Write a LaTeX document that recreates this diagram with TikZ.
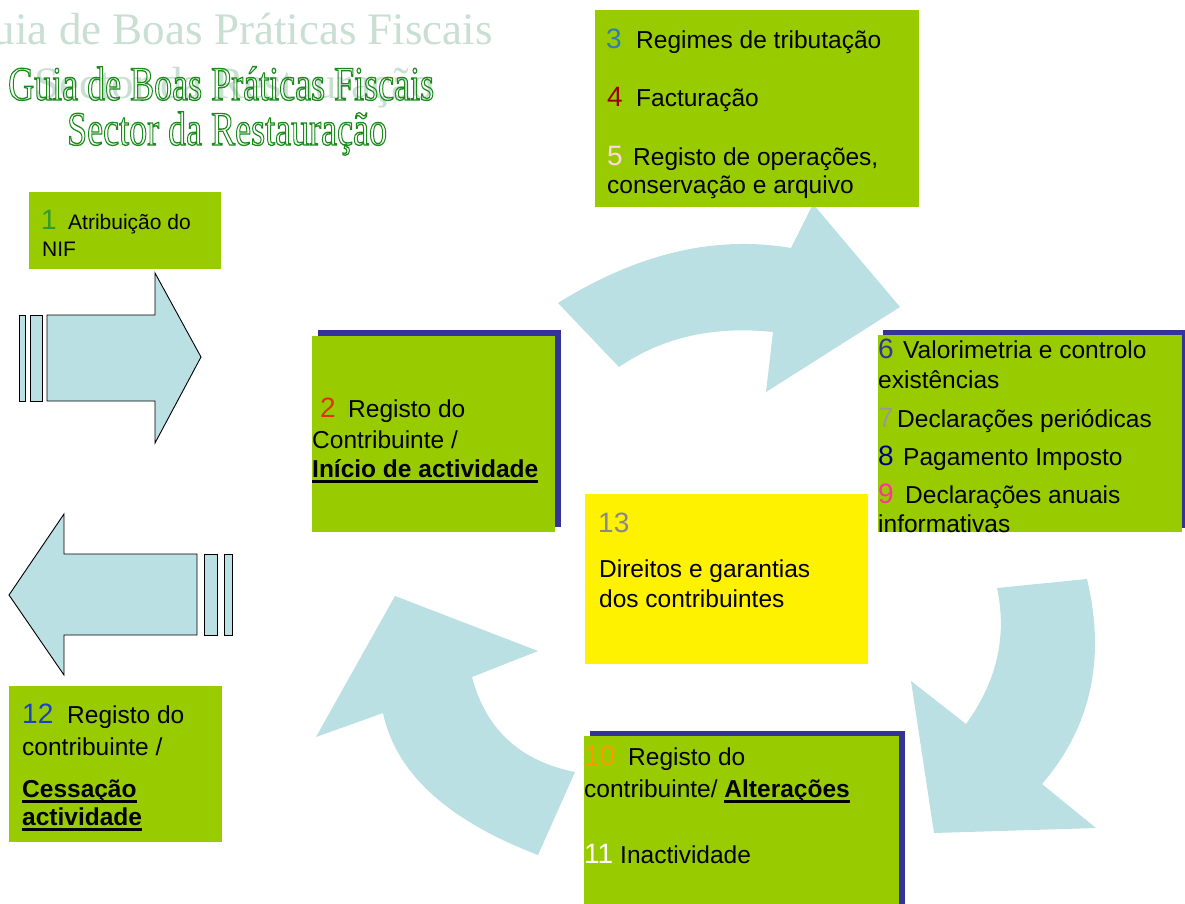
\documentclass[tikz,border=0pt]{standalone}
\usepackage{fontspec}
\setmainfont{Liberation Sans}
\newfontfamily\titlefont{Liberation Serif}
\definecolor{lime}{HTML}{99CC00}
\definecolor{navyshadow}{HTML}{333399}
\definecolor{arrowfill}{HTML}{BBE0E3}
\definecolor{faded}{HTML}{C8DFD2}
\definecolor{outgreen}{HTML}{1A8A1A}
\definecolor{cone}{HTML}{339933}
\definecolor{ctwo}{HTML}{DD3311}
\definecolor{cthree}{HTML}{2E7DB5}
\definecolor{cfour}{HTML}{990000}
\definecolor{cfive}{HTML}{FFD5EA}
\definecolor{csix}{HTML}{333399}
\definecolor{cseven}{HTML}{999999}
\definecolor{ceight}{HTML}{000080}
\definecolor{cnine}{HTML}{FF3399}
\definecolor{cten}{HTML}{FF9900}
\definecolor{ctwelve}{HTML}{1A40CC}
\definecolor{cthirteen}{HTML}{888888}
\newcommand\myul[1]{\setbox0\hbox{\bfseries #1}\rlap{\rule[-5.5pt]{\wd0}{2.5pt}}\box0}
\newcommand\outl[1]{\special{pdf:literal direct 1 Tr 1.3 w}#1\special{pdf:literal direct 0 Tr}}
\tikzset{
  gbox/.style={fill=lime, draw=none, inner sep=0, anchor=north west},
  ybox/.style={fill=yellow, draw=none, inner sep=0, anchor=north west},
  txt/.style={anchor=base west, inner sep=0, font=\fontsize{24.5}{28}\selectfont},
  smalltxt/.style={anchor=base west, inner sep=0, font=\fontsize{21}{24}\selectfont},
  digit/.style={anchor=base west, inner sep=0, font=\fontsize{28}{30}\selectfont},
  blockarrow/.style={fill=arrowfill, draw=black, line width=0.9pt, line join=miter},
  curvarrow/.style={fill=arrowfill, draw=none},
}
\begin{document}
\begin{tikzpicture}[x=1pt,y=-1pt]
\useasboundingbox (0,0) rectangle (1185,903);
\fill[white] (0,0) rectangle (1185,903);

% titles
\node[anchor=base east, inner sep=0, text=faded, font=\titlefont\fontsize{45}{48}\selectfont] (fade1) at (493,44) {Guia de Boas Práticas Fiscais};
\node[anchor=base, inner sep=0, text=faded, font=\titlefont\fontsize{45}{48}\selectfont] (fade2) at (234,98) {Sector da Restauração};
\node[anchor=base west, inner sep=0, text=outgreen, font=\titlefont\fontsize{48}{50}\selectfont] (title1) at (8,100) {\outl{\scalebox{0.75}[1]{Guia de Boas Práticas Fiscais}}};
\node[anchor=base west, inner sep=0, text=outgreen, font=\titlefont\fontsize{48}{50}\selectfont] (title2) at (67,145) {\outl{\scalebox{0.75}[1]{Sector da Restauração}}};

% curved arrows
\fill[curvarrow] (558,303) -- (619,367) .. controls (662.3,337.3) and (713.7,325.7) .. (773,332)
  -- (766,392) -- (900,307) -- (813,204) -- (791,248)
  .. controls (715.3,235) and (637.7,253.3) .. (558,303) -- cycle;
\fill[curvarrow] (1087,579) -- (997,588) .. controls (1007.3,636) and (997,681.3) .. (966,724)
  -- (911,681) -- (934,833) -- (1096,828) -- (1042,784)
  .. controls (1091,727) and (1106,658.7) .. (1087,579) -- cycle;
\fill[curvarrow] (575,772) -- (538,855) .. controls (447.3,820.3) and (395.7,773) .. (383,713)
  -- (316,737) -- (395,596) -- (538,651) -- (472,677)
  .. controls (485.7,729.3) and (520,761) .. (575,772) -- cycle;

% block arrows
\draw[blockarrow] (47,315) -- (155,315) -- (155,273) -- (201,357) -- (155,443) -- (155,401) -- (47,401) -- cycle;
\draw[blockarrow] (19,315) rectangle (25,401);
\draw[blockarrow] (30,315) rectangle (42,401);
\draw[blockarrow] (197,554) -- (64,554) -- (64,514) -- (9,595) -- (64,675) -- (64,635) -- (197,635) -- cycle;
\draw[blockarrow] (204,554) rectangle (217,635);
\draw[blockarrow] (224,554) rectangle (232,635);

% box 1
\node[gbox, minimum width=192, minimum height=77] (b1) at (29,192) {};
\node[digit, text=cone] (d1) at (41,229) {1};
\node[smalltxt] (t1a) at (68,229) {Atribuição do};
\node[smalltxt] (t1b) at (42,256) {NIF};

% box 2
\fill[navyshadow] (318,330) rectangle (561,527);
\node[gbox, minimum width=243, minimum height=196] (b2) at (312,336) {};
\node[digit, text=ctwo] (d2) at (320,417) {2};
\node[txt] (t2a) at (348,417) {Registo do};
\node[txt] (t2b) at (312,448) {Contribuinte /};
\node[txt] (t2c) at (312,477) {\myul{Início de actividade}};

% box 3-5
\node[gbox, minimum width=324, minimum height=197] (b3) at (595,10) {};
\node[digit, text=cthree] (d3) at (606,48) {3};
\node[txt] (t3) at (636,48) {Regimes de tributação};
\node[digit, text=cfour] (d4) at (607,106) {4};
\node[txt] (t4) at (636,106) {Facturação};
\node[digit, text=cfive] (d5) at (607,165) {5};
\node[txt] (t5a) at (633,165) {Registo de operações,};
\node[txt] (t5b) at (607,193) {conservação e arquivo};

% box 6-9
\fill[navyshadow] (883,330) rectangle (1190,528);
\node[gbox, minimum width=304, minimum height=197] (b6) at (878,335) {};
\node[digit, text=csix] (d6) at (878,358) {6};
\node[txt] (t6a) at (903,358) {Valorimetria e controlo};
\node[txt] (t6b) at (878,388) {existências};
\node[digit, text=cseven] (d7) at (878,427) {7};
\node[txt] (t7) at (897,427) {Declarações periódicas};
\node[digit, text=ceight] (d8) at (878,465) {8};
\node[txt] (t8) at (903,465) {Pagamento Imposto};
\node[digit, text=cnine] (d9) at (878,503) {9};
\node[txt] (t9a) at (905,503) {Declarações anuais};
\node[txt] (t9b) at (878,532) {informativas};

% box 13
\node[ybox, minimum width=283, minimum height=170] (b13) at (585,494) {};
\node[digit, text=cthirteen] (d13) at (598,532) {13};
\node[txt] (t13a) at (599,577) {Direitos e garantias};
\node[txt] (t13b) at (599,607) {dos contribuintes};

% box 10-11
\fill[navyshadow] (590,731) rectangle (905,910);
\node[gbox, minimum width=315, minimum height=175] (b10) at (584,736) {};
\node[digit, text=cten] (d10) at (584,765) {10};
\node[txt] (t10a) at (628,765) {Registo do};
\node[txt] (t10b) at (584,797) {contribuinte/ \myul{Alterações}};
\node[digit, text=white] (d11) at (584,863) {11};
\node[txt] (t11) at (620,863) {Inactividade};

% box 12
\node[gbox, minimum width=213, minimum height=156] (b12) at (9,686) {};
\node[digit, text=ctwelve] (d12) at (22,723) {12};
\node[txt] (t12a) at (67,723) {Registo do};
\node[txt] (t12b) at (22,755) {contribuinte /};
\node[txt] (t12c) at (22,797) {\myul{Cessação}};
\node[txt] (t12d) at (22,825) {\myul{actividade}};
\end{tikzpicture}
\end{document}
